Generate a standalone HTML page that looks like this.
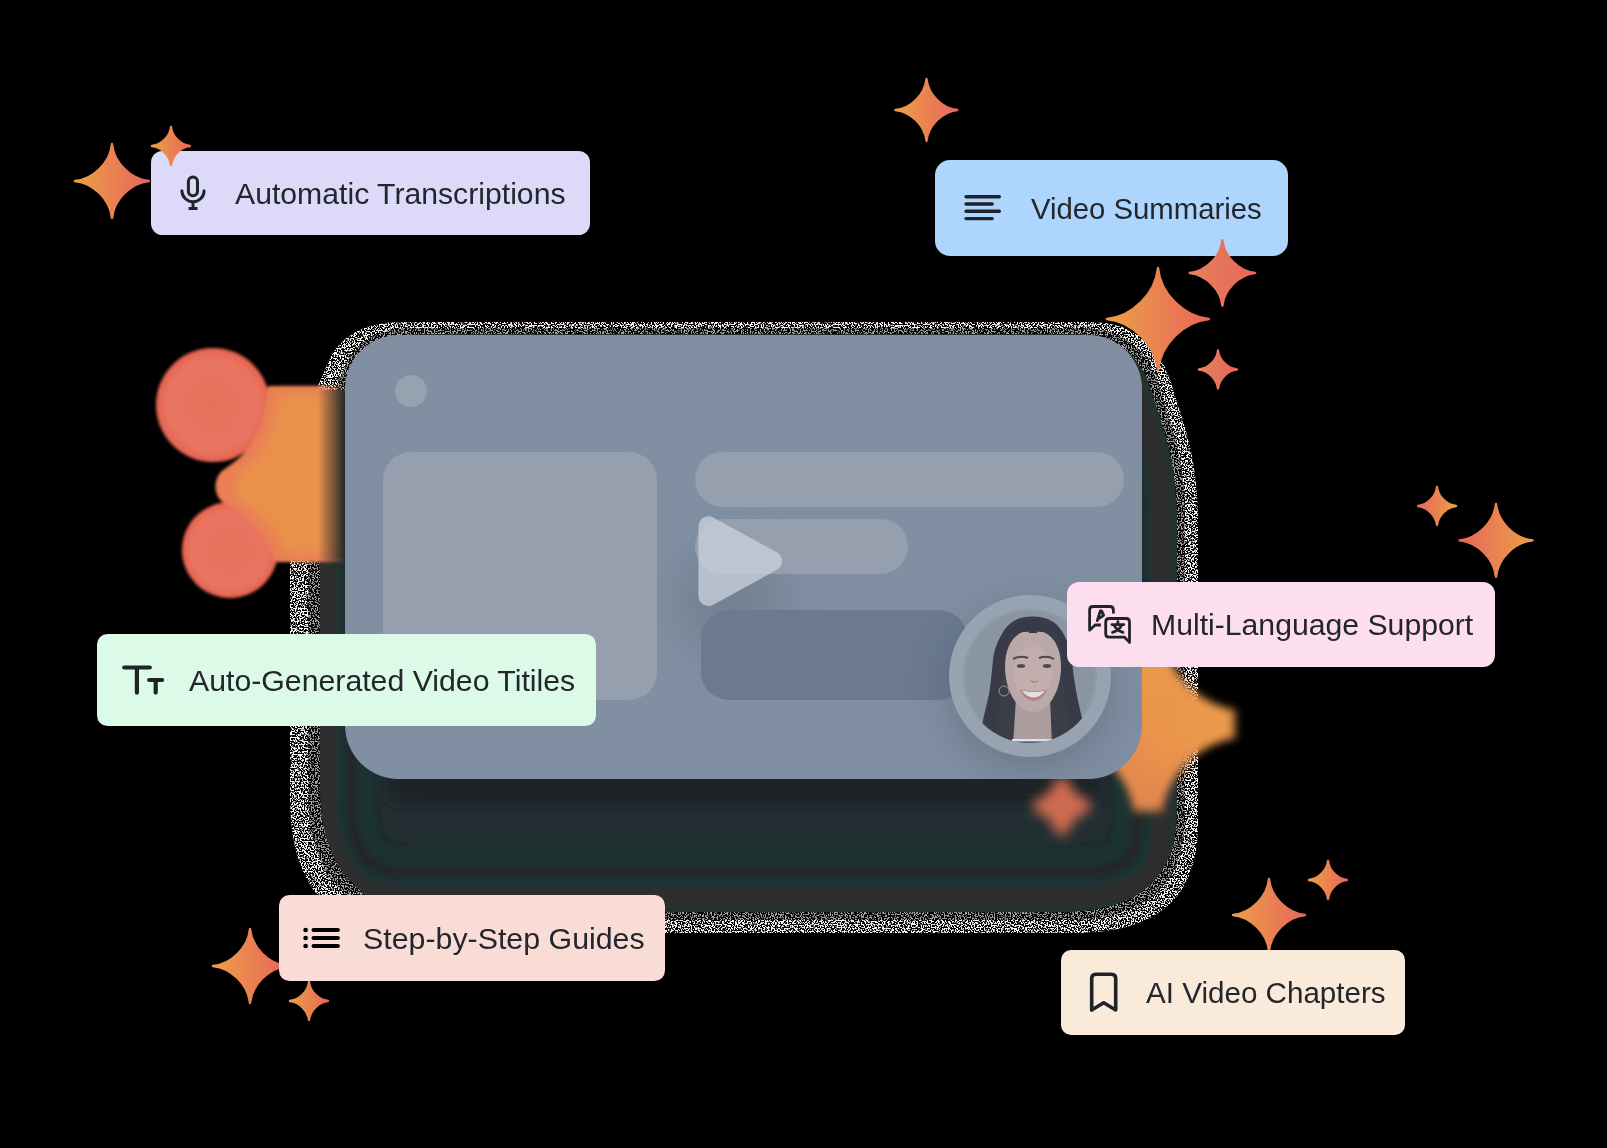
<!DOCTYPE html>
<html><head><meta charset="utf-8">
<style>
html,body{margin:0;padding:0;background:#000;}
body{width:1607px;height:1148px;position:relative;overflow:hidden;font-family:"Liberation Sans",sans-serif;}
.abs{position:absolute;}
.label{position:absolute;box-sizing:border-box;border-radius:14px;}
.label .t{position:absolute;white-space:nowrap;color:#23262c;font-size:30px;line-height:1;will-change:transform;}
svg.full{position:absolute;left:0;top:0;overflow:visible;}
</style></head>
<body>
<svg width="0" height="0" style="position:absolute">
<defs>
<linearGradient id="gOR" x1="0" y1="0" x2="1" y2="0"><stop offset="0" stop-color="#ec9f46"/><stop offset="1" stop-color="#e8665b"/></linearGradient>
<linearGradient id="gRO" x1="0" y1="0" x2="1" y2="0"><stop offset="0" stop-color="#e8665b"/><stop offset="1" stop-color="#ec9f46"/></linearGradient>
<linearGradient id="gRR" x1="0" y1="0" x2="1" y2="0"><stop offset="0" stop-color="#e5835a"/><stop offset="1" stop-color="#e8645b"/></linearGradient>
<path id="star" d="M0,-1 C0.05,-0.5 0.5,-0.05 1,0 C0.5,0.05 0.05,0.5 0,1 C-0.05,0.5 -0.5,0.05 -1,0 C-0.5,-0.05 -0.05,-0.5 0,-1Z"/>
<filter id="nz" x="0" y="0" width="1607" height="1148" filterUnits="userSpaceOnUse">
  <feTurbulence type="fractalNoise" baseFrequency="0.7" numOctaves="1" seed="7" result="t"/>
  <feColorMatrix in="t" type="matrix" values="0 0 0 0 0.95  0 0 0 0 0.95  0 0 0 0 0.95  14 0 0 0 -6.7"/>
</filter>
<filter id="nz2" x="0" y="0" width="1607" height="1148" filterUnits="userSpaceOnUse">
  <feTurbulence type="fractalNoise" baseFrequency="0.7" numOctaves="1" seed="3" result="t"/>
  <feColorMatrix in="t" type="matrix" values="0 0 0 0 0.36  0 0 0 0 0.36  0 0 0 0 0.36  14 0 0 0 -6.9"/>
</filter>
<filter id="bl8"><feGaussianBlur stdDeviation="8"/></filter>
<filter id="bl5"><feGaussianBlur stdDeviation="5"/></filter>
<filter id="bl6" x="-60%" y="-60%" width="220%" height="220%"><feMorphology operator="dilate" radius="5"/><feGaussianBlur stdDeviation="6"/></filter>
<filter id="bl3"><feGaussianBlur stdDeviation="3"/></filter>
<filter id="bl05"><feGaussianBlur stdDeviation="0.5"/></filter>
<filter id="dil" x="-30%" y="-30%" width="160%" height="160%"><feMorphology operator="dilate" radius="14"/><feGaussianBlur stdDeviation="4"/></filter>
<linearGradient id="gBS" x1="0" y1="1" x2="1" y2="0"><stop offset="0" stop-color="#d9794e"/><stop offset="0.5" stop-color="#e8904b"/><stop offset="1" stop-color="#eea44a"/></linearGradient>
<filter id="bl2"><feGaussianBlur stdDeviation="1.5"/></filter>
<filter id="bl10" x="-50%" y="-50%" width="200%" height="200%"><feGaussianBlur stdDeviation="6"/></filter>
<filter id="bl12"><feGaussianBlur stdDeviation="12"/></filter>
<clipPath id="shClip"><path id="shPath" d="M400,322 L1090,322 C1135,322 1160,345 1172,385 C1180,415 1198,450 1198,520 L1198,825 C1198,900 1155,933 1075,933 L410,933 C335,933 290,890 290,800 L290,520 C290,450 312,400 328,362 C340,335 365,322 400,322 Z"/></clipPath>
<mask id="shBand" maskUnits="userSpaceOnUse" x="0" y="0" width="1607" height="1148">
  <use href="#shPath" fill="#fff"/>
  <use href="#shPath" fill="#000" transform="translate(308,328) scale(0.9659,0.9689) translate(-290,-322)"/>
</mask>
<mask id="shBand2" maskUnits="userSpaceOnUse" x="0" y="0" width="1607" height="1148">
  <use href="#shPath" fill="#fff" transform="translate(308,328) scale(0.9659,0.9689) translate(-290,-322)"/>
  <use href="#shPath" fill="#000" transform="translate(320,334) scale(0.9438,0.9460) translate(-290,-322)"/>
</mask>
<mask id="shBandAll" maskUnits="userSpaceOnUse" x="0" y="0" width="1607" height="1148">
  <use href="#shPath" fill="#fff"/>
  <use href="#shPath" fill="#000" transform="translate(320,334) scale(0.9438,0.9460) translate(-290,-322)"/>
</mask>
<linearGradient id="shFill" x1="0" y1="0" x2="0" y2="1">
  <stop offset="0" stop-color="#1e2428"/>
  <stop offset="0.55" stop-color="#1d2528"/>
  <stop offset="0.80" stop-color="#1f2e30"/>
  <stop offset="1" stop-color="#2a3334"/>
</linearGradient>
</defs>
</svg>

<!-- card shadow -->
<svg class="full" width="1607" height="1148">
  <g clip-path="url(#shClip)">
    <g filter="url(#bl3)">
    <use href="#shPath" fill="#1b2226"/>
    <use href="#shPath" fill="none" stroke="#202e31" stroke-width="268"/>
    <use href="#shPath" fill="none" stroke="#1e2527" stroke-width="178"/>
    <use href="#shPath" fill="none" stroke="#1d3131" stroke-width="172"/>
    <use href="#shPath" fill="none" stroke="#242526" stroke-width="132"/>
    <use href="#shPath" fill="none" stroke="#1d3133" stroke-width="112"/>
    <use href="#shPath" fill="none" stroke="#2d2d2e" stroke-width="92"/>
    <use href="#shPath" fill="none" stroke="#23302f" stroke-width="56"/>
    </g>
    <rect x="0" y="0" width="1607" height="1148" fill="#000" mask="url(#shBandAll)"/>
    <rect x="0" y="0" width="1607" height="1148" filter="url(#nz2)" mask="url(#shBand2)"/>
    <rect x="0" y="0" width="1607" height="1148" filter="url(#nz)" mask="url(#shBand)"/>
  </g>
  <defs><linearGradient id="navyFade" x1="0" y1="0" x2="0" y2="1"><stop offset="0" stop-color="#1b2226" stop-opacity="1"/><stop offset="1" stop-color="#1b2226" stop-opacity="0"/></linearGradient></defs>
  <rect x="390" y="772" width="710" height="30" fill="#1b2226" filter="url(#bl10)"/>
</svg>

<!-- left blurred blobs -->
<svg class="full" width="1607" height="1148">
  <defs>
    <radialGradient id="rb" cx="0.5" cy="0.5" r="0.5"><stop offset="0" stop-color="#e8705a"/><stop offset="0.8" stop-color="#e87561"/><stop offset="1" stop-color="#e6624f"/></radialGradient>
    <linearGradient id="fadeR" gradientUnits="userSpaceOnUse" x1="318" y1="0" x2="346" y2="0"><stop offset="0" stop-color="#fff"/><stop offset="1" stop-color="#000"/></linearGradient>
    <mask id="blobMask" maskUnits="userSpaceOnUse" x="0" y="0" width="1607" height="1148"><rect x="0" y="0" width="400" height="700" fill="url(#fadeR)"/></mask>
  </defs>
  <rect x="306" y="390" width="42" height="168" fill="#1d2427"/>
  <g mask="url(#blobMask)">
    <g filter="url(#bl2)">
      <circle cx="213" cy="405" r="57" fill="url(#rb)"/>
      <circle cx="230" cy="550" r="48" fill="url(#rb)"/>
      <path d="M268,386 L360,386 L360,562 L276,562 C266,536 250,516 226,504 C212,497 212,476 226,468 C252,452 264,430 268,386 Z" fill="#e97f55"/>
    </g>
    <g filter="url(#bl10)"><path d="M278,394 L360,394 L360,554 L286,554 C276,530 262,514 244,504 C232,496 232,478 244,470 C262,456 274,436 278,394 Z" fill="#e9924b"/></g>
  </g>
</svg>

<!-- blurred sparkles near card -->
<svg class="full" width="1607" height="1148">
  <g filter="url(#dil)"><use href="#star" fill="url(#gBS)" transform="translate(1148,724) scale(76)"/></g>
  <g filter="url(#bl6)"><use href="#star" fill="#cd6a50" transform="translate(1062,806) scale(26)"/></g>
</svg>

<!-- card -->
<div id="card" class="abs" style="left:345px;top:334.5px;width:797px;height:444px;border-radius:54px;background:#808fa2;overflow:hidden;">
  <div class="abs" style="left:50px;top:40px;width:32px;height:32px;border-radius:50%;background:#97a2b1;"></div>
  <!-- play shadow -->
  <div class="abs" style="left:330px;top:210px;width:110px;height:110px;border-radius:50%;background:rgba(60,70,85,0.18);filter:blur(22px);"></div>
  <div class="abs" style="left:38px;top:117.5px;width:274px;height:248px;border-radius:28px;background:#959fae;"></div>
  <div class="abs" style="left:350px;top:117.5px;width:429px;height:55px;border-radius:28px;background:#959fae;"></div>
  <div class="abs" style="left:350px;top:184.5px;width:213px;height:55px;border-radius:28px;background:#959fae;"></div>
  <div class="abs" style="left:356px;top:275px;width:266px;height:90px;border-radius:28px;background:#6b7a91;"></div>
  <!-- avatar -->
  <div class="abs" style="left:604px;top:260.5px;width:162px;height:162px;border-radius:50%;background:#98a3b2;box-shadow:0 12px 40px rgba(40,50,65,0.25);"></div>
  <svg class="abs" style="left:618px;top:274.5px;" width="134" height="134" viewBox="963 609 134 134">
    <defs><clipPath id="avc"><circle cx="1030" cy="676" r="67"/></clipPath></defs>
    <g clip-path="url(#avc)"><g filter="url(#bl05)">
      <rect x="960" y="600" width="140" height="150" fill="#8e99a7"/>
      <circle cx="1030" cy="676" r="64" fill="#8a95a3"/>
      <!-- hair back -->
      <path d="M1032,616.5 C1046,616.5 1058,621 1064.5,636 C1070,650 1069,668 1073,688 C1077,708 1084,722 1092,745 L979,745 C981,725 986,708 990,690 C994,670 994,652 999,640 C1006,622 1018,616.5 1032,616.5 Z" fill="#3b3e4a"/>
      <!-- neck -->
      <path d="M1016,698 C1020,706 1046,706 1050,698 L1052,745 L1013,745 Z" fill="#ab9c9e"/>
      <!-- face -->
      <path d="M1033,630 C1051,630 1061,645 1061,667 C1061,690 1049,712 1033,712 C1017,712 1005,690 1005,667 C1005,645 1015,630 1033,630 Z" fill="#bba8a8"/>
      <ellipse cx="1033" cy="672" rx="19" ry="26" fill="#c2aeac"/>
      <!-- hair fringe sides -->
      <path d="M1032,622 C1014,624 1007,634 1005,652 C1003,670 1000,700 994,745 L982,745 C987,715 990,690 993,660 C996,636 1010,620 1032,622 Z" fill="#373a46"/>
      <path d="M1034,622 C1052,624 1059,636 1061,652 C1063,672 1064,705 1075,745 L1089,745 C1080,712 1074,686 1072,660 C1069,634 1056,620 1034,622 Z" fill="#373a46"/>
      <path d="M1032,621 C1024,624 1016,629 1010,636 C1018,632 1026,631 1032,632 Z M1034,621 C1042,624 1050,629 1056,636 C1048,632 1040,631 1034,632 Z" fill="#373a46"/>
      <path d="M1024,619 L1042,619 L1037,633 L1029,633 Z" fill="#373a46"/>
      <!-- eyes & brows -->
      <path d="M1013,659 Q1020,655 1028,658" stroke="#4a4652" stroke-width="2" fill="none"/>
      <path d="M1039,658 Q1047,655 1054,659" stroke="#4a4652" stroke-width="2" fill="none"/>
      <ellipse cx="1021" cy="666" rx="4.2" ry="1.9" fill="#4b4c58"/>
      <ellipse cx="1047" cy="666" rx="4.2" ry="1.9" fill="#4b4c58"/>
      <!-- nose -->
      <path d="M1031,680 Q1034,684 1038,681" stroke="#9e8b8c" stroke-width="1.3" fill="none"/>
      <!-- smile -->
      <path d="M1020,689.5 Q1034,693 1047,689.5 Q1042,701 1033.5,701 Q1025,701 1020,689.5 Z" fill="#b48489"/>
      <path d="M1022,690.5 Q1034,693.5 1045,690.5 Q1040,697.5 1033.5,697.5 Q1027,697.5 1022,690.5 Z" fill="#e2e0e5"/>
      <!-- earring -->
      <circle cx="1004" cy="691" r="5" stroke="#a39da2" stroke-width="0.9" fill="none"/>
      <!-- shirt -->
      <rect x="1012" y="739" width="42" height="2.5" fill="#dfe2e8"/>
      <rect x="1012" y="741.5" width="42" height="4" fill="#4b5468"/></g>
    </g>
  </svg>
  <!-- play -->
  <svg class="abs" style="left:0;top:0;overflow:visible" width="797" height="444" viewBox="345 334.5 797 444">
    <g opacity="0.78">
      <polygon points="708.4,525.7 772,560.6 708.4,595.5" fill="#c8d0dc" stroke="#c8d0dc" stroke-width="20" stroke-linejoin="round"/>
    </g>
  </svg>
</div>


<!-- sparkles under labels -->
<svg class="full" width="1607" height="1148">
  <use href="#star" fill="url(#gOR)" transform="translate(112,181) scale(37)" stroke="url(#gOR)" stroke-width="0.0649" stroke-linejoin="round"/>
  <use href="#star" fill="url(#gOR)" transform="translate(926.5,110) scale(31)" stroke="url(#gOR)" stroke-width="0.0774" stroke-linejoin="round"/>
  <use href="#star" fill="url(#gOR)" transform="translate(1158,319) scale(51)" stroke="url(#gOR)" stroke-width="0.0471" stroke-linejoin="round"/>
  <use href="#star" fill="url(#gRR)" transform="translate(1218,369.5) scale(19)" stroke="url(#gRR)" stroke-width="0.1263" stroke-linejoin="round"/>
  <use href="#star" fill="url(#gRO)" transform="translate(1437,506) scale(19)" stroke="url(#gRO)" stroke-width="0.1263" stroke-linejoin="round"/>
  <use href="#star" fill="url(#gRO)" transform="translate(1496,540.4) scale(36.5)" stroke="url(#gRO)" stroke-width="0.0658" stroke-linejoin="round"/>
  <use href="#star" fill="url(#gOR)" transform="translate(250,966) scale(37)" stroke="url(#gOR)" stroke-width="0.0649" stroke-linejoin="round"/>
  <use href="#star" fill="url(#gOR)" transform="translate(309,1001) scale(19)" stroke="url(#gOR)" stroke-width="0.1263" stroke-linejoin="round"/>
  <use href="#star" fill="url(#gOR)" transform="translate(1269,915) scale(36)" stroke="url(#gOR)" stroke-width="0.0667" stroke-linejoin="round"/>
  <use href="#star" fill="url(#gOR)" transform="translate(1328,880) scale(19)" stroke="url(#gOR)" stroke-width="0.1263" stroke-linejoin="round"/>
</svg>

<!-- labels -->
<div class="label" style="left:151px;top:151px;width:439px;height:84px;background:#dcdaf8;border-radius:11.5px;">
  <span class="t" style="left:84px;top:28px;font-size:30.2px;">Automatic Transcriptions</span>
</div>
<div class="label" style="left:935px;top:160px;width:353px;height:96px;background:#add5fd;border-radius:15px;">
  <span class="t" style="left:96px;top:33.5px;font-size:29.3px;">Video Summaries</span>
</div>
<div class="label" style="left:1067px;top:582px;width:428px;height:84.5px;background:#fcdeee;border-radius:12px;">
  <span class="t" style="left:84px;top:28px;font-size:30.2px;">Multi-Language Support</span>
</div>
<div class="label" style="left:97px;top:634px;width:499px;height:92px;background:#dcfae8;border-radius:10.5px;">
  <span class="t" style="left:92px;top:31.7px;font-size:30.25px;">Auto-Generated Video Titiles</span>
</div>
<div class="label" style="left:279px;top:895px;width:386px;height:86px;background:#fadcd7;border-radius:10.5px;">
  <span class="t" style="left:84px;top:28.5px;font-size:30.35px;">Step-by-Step Guides</span>
</div>
<div class="label" style="left:1061px;top:950px;width:344px;height:84.5px;background:#faead9;border-radius:10px;">
  <span class="t" style="left:85px;top:28px;font-size:29.6px;">AI Video Chapters</span>
</div>

<!-- icons + sparkles over labels -->
<svg class="full" width="1607" height="1148" fill="none" stroke="#202328" stroke-linecap="round" stroke-linejoin="round">
  <!-- mic -->
  <g stroke-width="3">
    <rect x="188.4" y="177.1" width="9.1" height="18.6" rx="4.55"/>
    <path d="M181.9,190.7 A11.1,11.1 0 0 0 204.1,190.7"/>
    <path d="M193,201.8 L193,208.5 M188.6,208.5 L197.5,208.5" stroke-linecap="butt"/>
  </g>
  <!-- align lines -->
  <g stroke-width="3.4">
    <path d="M966,196.7 H999.3 M966,204 H992.2 M966,211.2 H999.3 M966,218.6 H992.2"/>
  </g>
  <!-- translate -->
  <g stroke-width="2.8" transform="translate(1082,598)">
    <path d="M31.4,15.4 V12 Q31.4,8.5 27.9,8.5 H11.1 Q7.6,8.5 7.6,12 V32.2 L13.1,27 H18.9" stroke-linecap="butt"/>
    <path d="M47.5,44.4 V24 Q47.5,20.5 44,20.5 H27.2 Q23.7,20.5 23.7,24 V35.7 Q23.7,39.2 27.2,39.2 H42.5 Z"/>
    <path d="M15.3,22.6 L18.3,12.8 H19.6 L21.6,17.4 L17.6,20.2"/>
    <path d="M30,26.6 H41.8 M35.9,23.6 V25.5 M32.2,27.6 Q35,32.5 41,34.4 M39.4,27.6 Q37,32.5 30.5,34.4"/>
  </g>
  <!-- Tt -->
  <g stroke-width="4.2">
    <path d="M124.2,667.5 H149.8 M136.9,667.5 V692.7 M149.2,680 H162.1 M155.7,680 V692.6"/>
  </g>
  <!-- list -->
  <g stroke="#000" stroke-width="4">
    <path d="M313.5,930 H337.9 M313.5,938 H337.9 M313.5,946 H337.9"/>
  </g>
  <g fill="#000" stroke="none">
    <circle cx="305.6" cy="930" r="2.35"/><circle cx="305.6" cy="938" r="2.35"/><circle cx="305.6" cy="946" r="2.35"/>
  </g>
  <!-- bookmark -->
  <path stroke-width="3.6" d="M1091.7,1010 V978.5 Q1091.7,974.2 1096,974.2 H1111.4 Q1115.7,974.2 1115.7,978.5 V1010 L1103.7,1002.8 Z"/>
  <!-- over-label sparkles -->
  <use href="#star" fill="url(#gOR)" transform="translate(171,146) scale(19)" stroke="url(#gOR)" stroke-width="0.1263" stroke-linejoin="round"/>
  <use href="#star" fill="url(#gRR)" transform="translate(1222.4,273) scale(32.7)" stroke="url(#gRR)" stroke-width="0.0734" stroke-linejoin="round"/>
</svg>
</body></html>
